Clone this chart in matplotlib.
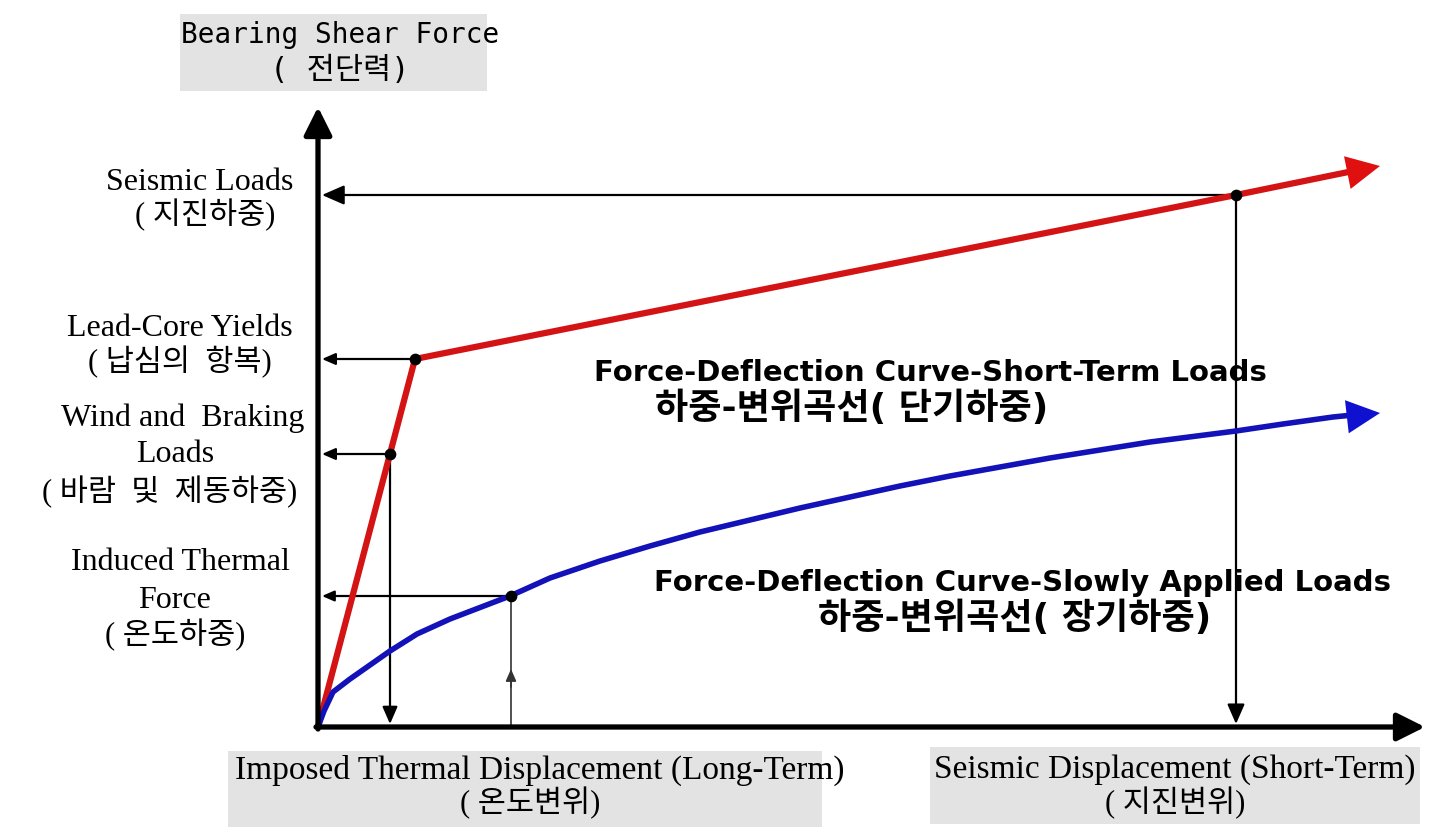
import matplotlib
matplotlib.use("Agg")
import matplotlib.pyplot as plt
from matplotlib.patches import Rectangle

# --- Data (displacement d, force F; arbitrary schematic units) ---
red_d = [0.0, 0.97, 9.18, 10.45]
red_f = [0.0, 3.68, 5.32, 5.58]
red_tip = (10.62, 5.61)

blue_d = [0.0, 0.06, 0.15, 0.32, 0.72, 0.99, 1.32, 1.92, 2.32, 2.82, 3.32, 3.82,
          4.32, 4.82, 5.32, 5.82, 6.32, 6.82, 7.32, 7.82, 8.32, 9.18, 9.65, 10.15, 10.35]
blue_f = [0.0, 0.16, 0.35, 0.48, 0.76, 0.93, 1.08, 1.31, 1.49, 1.66, 1.81, 1.95,
          2.07, 2.19, 2.30, 2.41, 2.51, 2.60, 2.69, 2.77, 2.85, 2.96, 3.03, 3.10, 3.12]
blue_tip = (10.62, 3.14)

seismic_pt = (9.18, 5.32)
yield_pt = (0.97, 3.68)
wind_pt = (0.72, 2.73)
thermal_pt = (1.93, 1.31)

x_axis_end = 11.07
y_axis_end = 6.20

# --- Fonts ---
KR_MONO = ["DejaVu Sans Mono", "Noto Sans CJK KR"]
KR_SERIF = ["Liberation Serif", "Noto Sans CJK KR"]
KR_BOLD = ["DejaVu Sans", "Noto Sans CJK KR"]

fig = plt.figure(figsize=(14.52, 8.37), dpi=100)
ax = fig.add_axes([0, 0, 1, 1])
ax.set_xlim(-3.18, 11.34)
ax.set_ylim(-1.09, 7.28)
ax.axis("off")

# gray label boxes
box_kw = dict(facecolor="#e3e3e3", edgecolor="none", zorder=0)
ax.add_patch(Rectangle((-1.38, 6.36), 3.07, 0.77, **box_kw))
ax.add_patch(Rectangle((-0.90, -1.00), 5.94, 0.76, **box_kw))
ax.add_patch(Rectangle((6.12, -0.97), 4.90, 0.77, **box_kw))

# axes arrows
axis_kw = dict(arrowstyle="-|>,head_length=1.0,head_width=0.5", color="black",
               lw=3.8, shrinkA=0, shrinkB=0, mutation_scale=17)
ax.annotate("", xy=(x_axis_end, 0), xytext=(-0.02, 0), arrowprops=axis_kw, zorder=5)
ax.annotate("", xy=(0, y_axis_end), xytext=(0, -0.02), arrowprops=axis_kw, zorder=5)


# reference arrows
def ref_arrow(x0, y0, x1, y1, scale=12, lw=1.6, color="black"):
    ax.annotate("", xy=(x1, y1), xytext=(x0, y0),
                arrowprops=dict(arrowstyle="-|>,head_length=0.8,head_width=0.35",
                                color=color, lw=lw, shrinkA=0, shrinkB=0,
                                mutation_scale=scale), zorder=3)


# horizontal ones to the force axis
ref_arrow(seismic_pt[0], seismic_pt[1], 0.04, seismic_pt[1], scale=17)
ref_arrow(yield_pt[0], yield_pt[1], 0.04, yield_pt[1], scale=10)
ref_arrow(wind_pt[0], wind_pt[1], 0.04, wind_pt[1], scale=10)
ref_arrow(thermal_pt[0], thermal_pt[1], 0.04, thermal_pt[1], scale=9)

# vertical ones to the displacement axis
ref_arrow(seismic_pt[0], seismic_pt[1], seismic_pt[0], 0.03, scale=15)
ref_arrow(wind_pt[0], wind_pt[1], wind_pt[0], 0.03, scale=13)
ax.plot([thermal_pt[0], thermal_pt[0]], [0, thermal_pt[1]], color="#333333", lw=1.2, zorder=3)
ref_arrow(thermal_pt[0], 0.40, thermal_pt[0], 0.58, scale=9, lw=1.2, color="#333333")

# curves
ax.plot(red_d, red_f, color="#d41414", lw=4.5, solid_capstyle="butt", zorder=4)
ax.annotate("", xy=red_tip, xytext=(red_d[-2], red_f[-2]),
            arrowprops=dict(arrowstyle="-|>,head_length=1.0,head_width=0.5",
                            color="#e01010", lw=0, shrinkA=0, shrinkB=0,
                            mutation_scale=24), zorder=4)
ax.plot(blue_d, blue_f, color="#1212b8", lw=4.0, solid_capstyle="butt",
        solid_joinstyle="round", zorder=4)
ax.annotate("", xy=blue_tip, xytext=(blue_d[-3], blue_f[-3]),
            arrowprops=dict(arrowstyle="-|>,head_length=1.0,head_width=0.5",
                            color="#1010d0", lw=0, shrinkA=0, shrinkB=0,
                            mutation_scale=24), zorder=4)

# key points
pts = [seismic_pt, yield_pt, wind_pt, thermal_pt]
ax.scatter([p[0] for p in pts], [p[1] for p in pts], s=55, color="black", zorder=6)

# axis titles
ax.text(0.22, 6.93, "Bearing Shear Force", family=KR_MONO, fontsize=20, ha="center", va="center")
ax.text(0.22, 6.58, "( 전단력)", family=KR_MONO, fontsize=22, ha="center", va="center")
ax.text(2.22, -0.42, "Imposed Thermal Displacement (Long-Term)", family=KR_SERIF, fontsize=24,
        ha="center", va="center")
ax.text(2.12, -0.75, "( 온도변위)", family=KR_SERIF, fontsize=22, ha="center", va="center")
ax.text(8.57, -0.42, "Seismic Displacement (Short-Term)", family=KR_SERIF, fontsize=24,
        ha="center", va="center")
ax.text(8.57, -0.75, "( 지진변위)", family=KR_SERIF, fontsize=22, ha="center", va="center")

# force level labels
left_labels = [
    (-1.18, 5.46, "Seismic Loads"), (-1.13, 5.13, "( 지진하중)"),
    (-1.38, 4.00, "Lead-Core Yields"), (-1.38, 3.66, "( 납심의  항복)"),
    (-1.35, 3.10, "Wind and  Braking"), (-1.43, 2.73, "Loads"), (-1.48, 2.36, "( 바람  및  제동하중)"),
    (-1.38, 1.65, "Induced Thermal"), (-1.43, 1.28, "Force"), (-1.43, 0.93, "( 온도하중)"),
]
for x, y, s in left_labels:
    fs = 22 if "(" in s else 23
    ax.text(x, y, s, family=KR_SERIF, fontsize=fs, ha="center", va="center")

# curve labels
ax.text(6.12, 3.55, "Force-Deflection Curve-Short-Term Loads", family=KR_BOLD, fontsize=21,
        weight="bold", ha="center", va="center")
ax.text(5.34, 3.20, "하중-변위곡선( 단기하중)", family=KR_BOLD, fontsize=26, weight="bold",
        ha="center", va="center")
ax.text(7.04, 1.45, "Force-Deflection Curve-Slowly Applied Loads", family=KR_BOLD, fontsize=21,
        weight="bold", ha="center", va="center")
ax.text(6.97, 1.10, "하중-변위곡선( 장기하중)", family=KR_BOLD, fontsize=26, weight="bold",
        ha="center", va="center")

fig.savefig("out.png", dpi=100)
